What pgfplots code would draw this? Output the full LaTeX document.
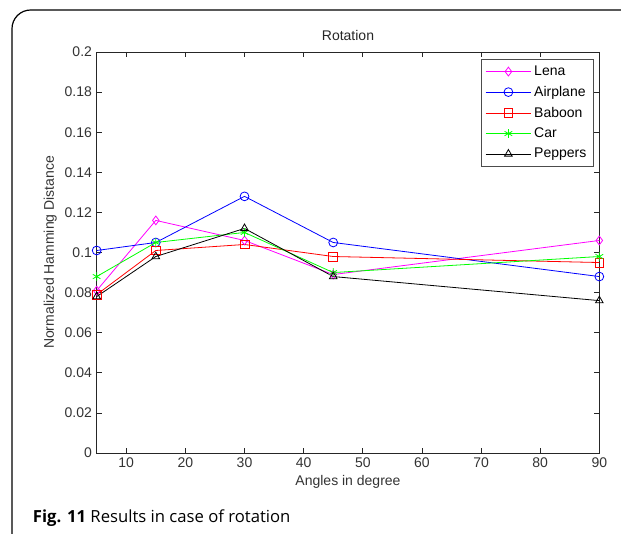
\documentclass[border=0pt]{standalone}
\usepackage{fontspec}
\setmainfont{Liberation Sans}
\newfontfamily\capfont{Open Sans}
\usepackage{pgfplots}
\pgfplotsset{compat=1.18}
\begin{document}
\begin{tikzpicture}
\useasboundingbox (0pt,0pt) rectangle (465.75pt,-400.5pt);
% frame around figure and caption
\draw[line width=0.9pt, rounded corners=14pt] (470pt,-7.5pt) -- (9pt,-7.5pt) -- (9pt,-410pt);
\begin{axis}[
    at={(72.5pt,-339.75pt)}, anchor=south west,
    scale only axis,
    width=377pt, height=300.75pt,
    xmin=5, xmax=90, ymin=0, ymax=0.2,
    xtick={10,20,...,90},
    ytick={0,0.02,...,0.2},
    tick align=inside,
    major tick length=4pt,
    axis line style={black!85, line width=0.7pt},
    every tick/.style={black!85, line width=0.6pt},
    /pgf/number format/assume math mode=true,
    tick label style={font=\fontsize{10.5}{12}\selectfont, text=black!80},
    yticklabel style={/pgf/number format/fixed, /pgf/number format/precision=2},
    label style={font=\fontsize{10.5}{12}\selectfont, text=black!80},
    title style={font=\fontsize{10.5}{12}\selectfont, text=black!85, yshift=-1pt},
    title={Rotation},
    xlabel={Angles in degree},
    ylabel={Normalized Hamming Distance},
    xlabel style={yshift=1pt},
    ylabel style={yshift=-1pt},
    legend style={at={(0.988,0.983)}, anchor=north east,
        font=\fontsize{10.5}{12}\selectfont, draw=black!70,
        row sep=2.5pt, inner xsep=3pt, inner ysep=3pt},
    legend cell align=left,
    legend image code/.code={
        \draw[mark repeat=2,mark phase=2] plot coordinates {(0cm,0cm) (0.6cm,0cm) (1.2cm,0cm)};},
    every axis plot/.append style={line width=0.6pt, mark size=3.3pt,
        mark options={solid, fill=none}},
]
\addplot[color={rgb,1:red,1;green,0;blue,1}, mark=diamond] coordinates {
(5,0.081) (15,0.116) (30,0.106) (45,0.089) (90,0.106)};
\addlegendentry{Lena}
\addplot[color=blue, mark=o] coordinates {
(5,0.101) (15,0.105) (30,0.128) (45,0.105) (90,0.088)};
\addlegendentry{Airplane}
\addplot[color=red, mark=square] coordinates {
(5,0.079) (15,0.101) (30,0.104) (45,0.098) (90,0.095)};
\addlegendentry{Baboon}
\addplot[color={rgb,1:red,0;green,1;blue,0}, mark=asterisk] coordinates {
(5,0.088) (15,0.105) (30,0.110) (45,0.090) (90,0.098)};
\addlegendentry{Car}
\addplot[color=black, mark=triangle] coordinates {
(5,0.078) (15,0.098) (30,0.112) (45,0.088) (90,0.076)};
\addlegendentry{Peppers}
\end{axis}
\node[anchor=base west, inner sep=0pt, font=\capfont\fontsize{12.5}{15}\selectfont]
  at (24.5pt,-392pt) {\textbf{Fig. 11} Results in case of rotation};
\end{tikzpicture}
\end{document}
